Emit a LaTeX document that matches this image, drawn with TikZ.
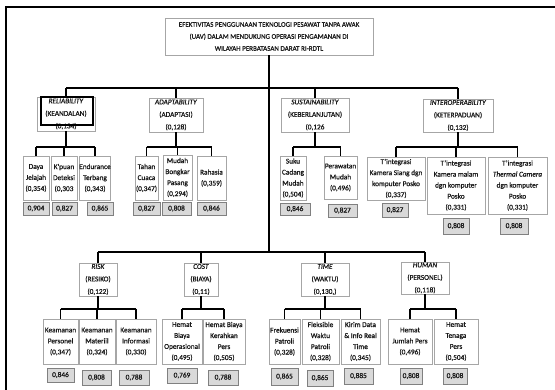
\documentclass[tikz,border=0pt]{standalone}
\usepackage{fontspec}
\setmainfont{Carlito}[RawFeature={embolden=0.9}]
\definecolor{boxline}{HTML}{A6A6A6}
\definecolor{valfill}{HTML}{D9D9D9}
\definecolor{valline}{HTML}{808080}
\definecolor{txt}{HTML}{1A1A1A}
\newcommand\fsA{\fontsize{7.3}{11}\selectfont}
\newcommand\fsB{\fontsize{7.3}{12.5}\selectfont}
\newcommand\fsT{\fontsize{7}{12}\selectfont}
\newcommand\bx[7][box]{\node[#1, minimum width={(#5-#3)*1pt}, minimum height={(#6-#4)*1pt}] (#2) at ({(#3+#5)/2},{(#4+#6)/2}) {#7};}
\tikzset{
  box/.style={draw=boxline, fill=white, line width=0.7pt, inner sep=0pt, align=center, font=\fsA, text=txt},
  lvl/.style={box, font=\fsB},
  ttl/.style={box, font=\fsT},
  val/.style={draw=valline, fill=valfill, line width=0.9pt, inner sep=0pt, align=center, font=\fsA, text=txt},
  conn/.style={line width=1.6pt, black},
  hilite/.style={draw=black, line width=2.6pt, inner sep=0pt}
}
\begin{document}
\begin{tikzpicture}[x=1pt, y=-1pt]
\useasboundingbox (0,0) rectangle (555,390);
\clip (0,0) rectangle (555,390);
\fill[white] (0,0) rectangle (555,390);
\draw[line width=2.2pt] (6,7) rectangle (570,400);

% title
\bx[ttl]{title}{165}{18}{373}{55}{EFEKTIVITAS PENGGUNAAN TEKNOLOGI PESAWAT TANPA AWAK\\(UAV) DALAM MENDUKUNG OPERASI PENGAMANAN DI\\WILAYAH PERBATASAN DARAT RI-RDTL}

% level 1 top row
\bx[lvl]{rel}{37}{97}{95}{131}{\textit{RELIABILITY}\\(KEANDALAN)\\(0,134)}
\bx[lvl]{ada}{149}{98}{203}{132}{\textit{ADAPTABILITY}\\(ADAPTASI)\\(0,128)}
\bx[lvl]{sus}{281}{98}{349}{132}{\textit{SUSTAINABILITY}\\(KEBERLANJUTAN)\\(0,126}
\bx[lvl]{int}{423}{99}{493}{132}{\textit{INTEROPERABILITY}\\(KETERPADUAN)\\(0,132)}
\node[hilite, minimum width=52pt, minimum height=28pt] (hl) at (67,111) {};

% level 1 bottom row
\bx[lvl]{risk}{79}{263}{117}{296}{\textit{RISK}\\(RESIKO)\\(0,122)}
\bx[lvl]{cost}{184}{263}{218}{296}{\textit{COST}\\(BIAYA)\\(0,11)}
\bx[lvl]{time}{301}{263}{349}{296}{\textit{TIME}\\(WAKTU)\\(0,130,)}
\bx[lvl]{hum}{401}{262}{449}{294}{\textit{HUMAN}\\(PERSONEL)\\(0,118)}

% reliability children
\bx{dj}{23}{156}{49}{200}{Daya\\Jelajah\\(0,354)}
\bx{kd}{51}{156}{77}{200}{K'puan\\Deteksi\\(0,303}
\bx{et}{81}{156}{109}{200}{Endurance\\Terbang\\(0,343)}
\bx[val]{vdj}{23}{202}{49}{215}{0,904}
\bx[val]{vkd}{52}{202}{77}{215}{0,827}
\bx[val]{vet}{87}{202}{113}{215}{0,865}

% adaptability children
\bx{tc}{135}{156}{158}{200}{Tahan\\Cuaca\\(0,347)}
\bx{mb}{163}{155}{192}{200}{Mudah\\Bongkar\\Pasang\\(0,294)}
\bx{rh}{197}{156}{226}{200}{Rahasia\\(0,359)}
\bx[val]{vtc}{133}{202}{160}{215}{0,827}
\bx[val]{vmb}{162}{202}{191}{215}{0,808}
\bx[val]{vrh}{197}{202}{226}{215}{0,846}

% sustainability children
\bx{sc}{280}{156}{306}{200}{Suku\\Cadang\\Mudah\\(0,504)}
\bx{pm}{324}{156}{357}{199}{Perawatan\\Mudah\\(0,496)}
\bx[val]{vsc}{280}{203}{310}{215}{0,846}
\bx[val]{vpm}{328}{204}{357}{217}{0,827}

% interoperability children
\bx{t1}{367}{157}{425}{200}{T'integrasi\\Kamera Siang dgn\\komputer Posko\\(0,337)}
\bx{t2}{427}{157}{485}{214}{T'integrasi\\Kamera malam\\dgn komputer\\Posko\\(0,331)}
\bx{t3}{488}{157}{547}{214}{T'integrasi\\\textit{Thermal Camera}\\dgn komputer\\Posko\\(0,331)}
\bx[val]{vt1}{382}{203}{408}{217}{0,827}
\bx[val]{vt2}{443}{218}{469}{234}{0,808}
\bx[val]{vt3}{500}{218}{528}{234}{0,808}

% risk children
\bx{kp}{43}{319}{78}{364}{Keamanan\\Personel\\(0,347)}
\bx{km}{79}{319}{115}{364}{Keamanan\\Materiil\\(0,324)}
\bx{ki}{116}{319}{156}{364}{Keamanan\\Informasi\\(0,330)}
\bx[val]{vkp}{47}{368}{74}{382}{0,846}
\bx[val]{vkm}{82}{370}{111}{385}{0,808}
\bx[val]{vki}{119}{370}{149}{385}{0,788}

% cost children
\bx{hbo}{162}{319}{202}{364}{Hemat\\Biaya\\Operasional\\(0,495)}
\bx{hbk}{203}{319}{245}{364}{Hemat Biaya\\Kerahkan\\Pers\\(0,505)}
\bx[val]{vhbo}{167}{368}{197}{383}{0,769}
\bx[val]{vhbk}{208}{370}{238}{385}{0,788}

% time children
\bx{fp}{269}{319}{300}{364}{Frekuensi\\Patroli\\(0,328)}
\bx{fw}{302}{319}{339}{364}{Fleksible\\Waktu\\Patroli\\(0,328)}
\bx{kr}{341}{319}{380}{364}{Kirim Data\\\& Info Real\\Time\\(0,345)}
\bx[val]{vfp}{271}{368}{298}{385}{0,865}
\bx[val]{vfw}{307}{370}{333}{386}{0,865}
\bx[val]{vkr}{344}{368}{373}{384}{0,885}

% human children
\bx{hj}{388}{319}{432}{364}{Hemat\\Jumlah Pers\\(0,496)}
\bx{ht}{434}{319}{478}{364}{Hemat\\Tenaga\\Pers\\(0,504)}
\bx[val]{vhj}{400}{368}{422}{384}{0,808}
\bx[val]{vht}{443}{368}{467}{384}{0,808}

% bars
\coordinate (b1) at (0,88);
\coordinate (b2) at (0,252);
\coordinate (c1) at (0,147);
\coordinate (c2) at (0,309);

\begin{scope}[conn]
\draw (title.south) -- (title.south |- b2);
\draw (rel.north |- b1) -- (int.north |- b1);
\foreach \n in {rel,ada,sus,int}{\draw (\n.north |- b1) -- (\n.north);}
\draw (risk.north |- b2) -- (hum.north |- b2);
\foreach \n in {risk,cost,time,hum}{\draw (\n.north |- b2) -- (\n.north);}
% children of top row
\draw (rel.south) -- (rel.south |- c1);
\draw (dj.north |- c1) -- (et.north |- c1);
\foreach \n in {dj,kd,et}{\draw (\n.north |- c1) -- (\n.north);}
\draw (ada.south) -- (ada.south |- c1);
\draw (tc.north |- c1) -- (rh.north |- c1);
\foreach \n in {tc,mb,rh}{\draw (\n.north |- c1) -- (\n.north);}
\draw (sus.south) -- (sus.south |- c1);
\draw (sc.north |- c1) -- (pm.north |- c1);
\foreach \n in {sc,pm}{\draw (\n.north |- c1) -- (\n.north);}
\draw (int.south) -- (int.south |- c1);
\draw (t1.north |- c1) -- (t3.north |- c1);
\foreach \n in {t1,t2,t3}{\draw (\n.north |- c1) -- (\n.north);}
% children of bottom row
\draw (risk.south) -- (risk.south |- c2);
\draw (kp.north |- c2) -- (ki.north |- c2);
\foreach \n in {kp,km,ki}{\draw (\n.north |- c2) -- (\n.north);}
\draw (cost.south) -- (cost.south |- c2);
\draw (hbo.north |- c2) -- (hbk.north |- c2);
\foreach \n in {hbo,hbk}{\draw (\n.north |- c2) -- (\n.north);}
\draw (time.south) -- (time.south |- c2);
\draw (fp.north |- c2) -- (kr.north |- c2);
\foreach \n in {fp,fw,kr}{\draw (\n.north |- c2) -- (\n.north);}
\draw (hum.south) -- (hum.south |- c2);
\draw (hj.north |- c2) -- (ht.north |- c2);
\foreach \n in {hj,ht}{\draw (\n.north |- c2) -- (\n.north);}
\end{scope}
\end{tikzpicture}
\end{document}
